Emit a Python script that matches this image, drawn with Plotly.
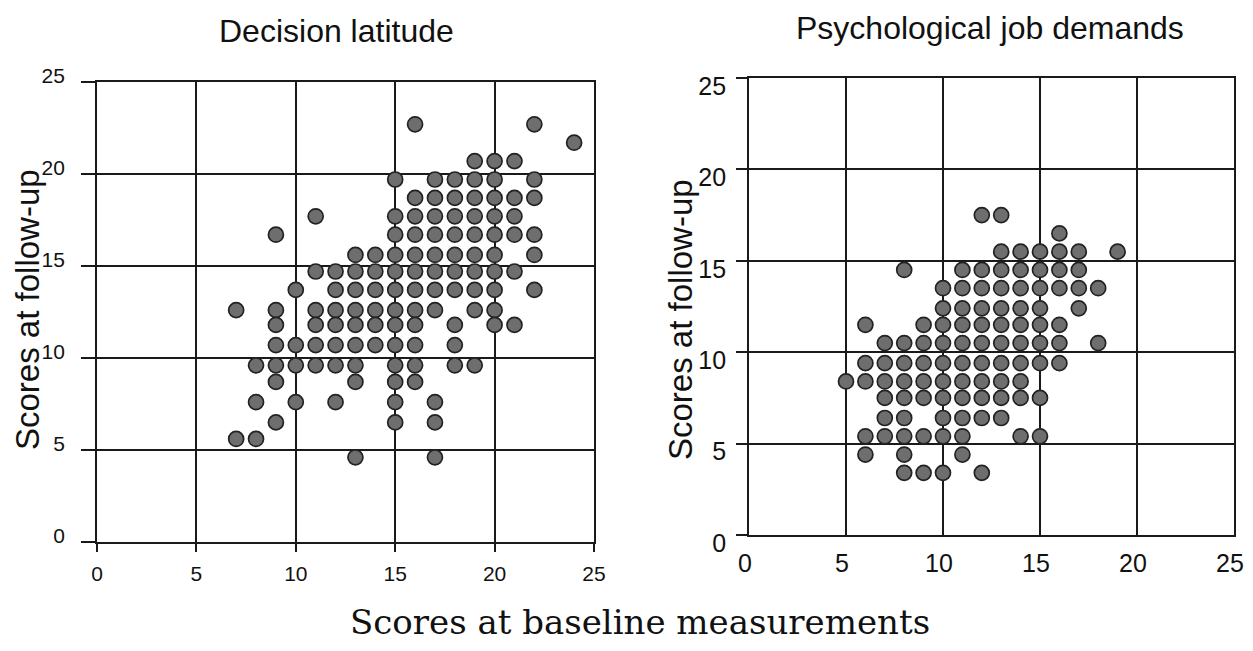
import plotly.graph_objects as go

# ---------------- data ----------------
# Decision latitude: rows of points (follow-up score level, baseline scores in that row)
dl_row_y = [22.7, 21.7, 20.7, 19.7, 18.7, 17.7, 16.7, 15.6, 14.7, 13.7,
            12.6, 11.8, 10.7, 9.6, 8.7, 7.6, 6.5, 5.6, 4.6]
dl_row_x = [
    [16, 22],
    [24],
    [19, 20, 21],
    [15, 17, 18, 19, 20, 22],
    [16, 17, 18, 19, 20, 21, 22],
    [11, 15, 16, 17, 18, 19, 20, 21],
    [9, 15, 16, 17, 18, 19, 20, 21, 22],
    [13, 14, 15, 16, 17, 18, 19, 20, 22],
    [11, 12, 13, 14, 15, 16, 17, 18, 19, 20, 21],
    [10, 12, 13, 14, 15, 16, 17, 18, 19, 20, 22],
    [7, 9, 11, 12, 13, 14, 15, 16, 17, 19, 20],
    [9, 11, 12, 13, 14, 15, 16, 18, 20, 21],
    [9, 10, 11, 12, 13, 14, 15, 16, 18],
    [8, 9, 10, 11, 12, 13, 15, 16, 18, 19],
    [9, 13, 15, 16],
    [8, 10, 12, 15, 17],
    [9, 15, 17],
    [7, 8],
    [13, 17],
]

# Psychological job demands
pd_row_y = [17.5, 16.5, 15.5, 14.5, 13.5, 12.4, 11.5, 10.5, 9.4, 8.4,
            7.5, 6.4, 5.4, 4.4, 3.4]
pd_row_x = [
    [12, 13],
    [16],
    [13, 14, 15, 16, 17, 19],
    [8, 11, 12, 13, 14, 15, 16, 17],
    [10, 11, 12, 13, 14, 15, 16, 17, 18],
    [10, 11, 12, 13, 14, 15, 17],
    [6, 9, 10, 11, 12, 13, 14, 15, 16],
    [7, 8, 9, 10, 11, 12, 13, 14, 15, 16, 18],
    [6, 7, 8, 9, 10, 11, 12, 13, 14, 15, 16],
    [5, 6, 7, 8, 9, 10, 11, 12, 13, 14],
    [7, 8, 9, 10, 11, 12, 13, 14, 15],
    [7, 8, 10, 11, 12, 13],
    [6, 7, 8, 9, 10, 11, 14, 15],
    [6, 8, 11],
    [8, 9, 10, 12],
]

tick_vals = [0, 5, 10, 15, 20, 25]
tick_text = ["0", "5", "10", "15", "20", "25"]

titles = ["Decision latitude", "Psychological job demands"]
y_title = "Scores at follow-up"
x_title = "Scores at baseline measurements"


def flatten(row_y, row_x):
    xs, ys = [], []
    for yv, xr in zip(row_y, row_x):
        for xv in xr:
            xs.append(xv)
            ys.append(yv)
    return xs, ys


dl_x, dl_y = flatten(dl_row_y, dl_row_x)
pd_x, pd_y = flatten(pd_row_y, pd_row_x)

# page body has an 8px margin; the figure is offset by it
OFF = 8
W, H = 1253 - OFF, 651 - OFF
INK = "#1a1a1a"
marker = dict(size=15, color="#6e6e6e", line=dict(color="#222222", width=1.7))

fig = go.Figure()
fig.add_trace(go.Scatter(x=dl_x, y=dl_y, mode="markers", marker=marker,
                         xaxis="x", yaxis="y", showlegend=False, hoverinfo="x+y"))
fig.add_trace(go.Scatter(x=pd_x, y=pd_y, mode="markers", marker=marker,
                         xaxis="x2", yaxis="y2", showlegend=False, hoverinfo="x+y"))


def px_x(p):
    return (p - OFF) / W


def px_y(p):
    return 1 - (p - OFF) / H


common = dict(range=[0, 25], tickvals=tick_vals, ticktext=tick_text,
              showgrid=True, gridcolor=INK, gridwidth=1.8,
              showline=True, linecolor=INK, linewidth=1.8, mirror=True,
              zeroline=False, fixedrange=True, tickcolor=INK, tickwidth=1.8,
              automargin=False)

SANS = "Liberation Sans, Arial, sans-serif"
left_font = dict(family=SANS, size=21, color="#111")
right_font = dict(family=SANS, size=25, color="#111")

fig.update_layout(
    width=W, height=H,
    margin=dict(l=0, r=0, t=0, b=0, autoexpand=False),
    paper_bgcolor="white", plot_bgcolor="white",
    xaxis=dict(common, domain=[px_x(97), px_x(594)], anchor="y",
               ticks="outside", ticklen=8, tickfont=left_font,
               ticklabelstandoff=4),
    yaxis=dict(common, domain=[px_y(542), px_y(82)], anchor="x",
               ticks="outside", ticklen=14, tickfont=left_font,
               ticklabelstandoff=12, ticklabelshift=-6),
    xaxis2=dict(common, domain=[px_x(749), px_x(1234)], anchor="y2",
                ticks="", tickfont=right_font, ticklabelstandoff=5,
                ticklabelshift=-4),
    yaxis2=dict(common, domain=[px_y(535), px_y(78)], anchor="x2",
                ticks="outside", ticklen=11, tickfont=right_font,
                ticklabelstandoff=5, ticklabelshift=8),
    annotations=[
        dict(text=titles[0], x=px_x(336), y=px_y(31), xref="paper", yref="paper",
             showarrow=False, xanchor="center", yanchor="middle",
             font=dict(family=SANS, size=32, color="#111")),
        dict(text=titles[1], x=px_x(990), y=px_y(28), xref="paper", yref="paper",
             showarrow=False, xanchor="center", yanchor="middle",
             font=dict(family=SANS, size=32, color="#111")),
        dict(text=y_title, x=px_x(27), y=px_y(310), xref="paper", yref="paper",
             showarrow=False, xanchor="center", yanchor="middle", textangle=-90,
             font=dict(family=SANS, size=33, color="#111")),
        dict(text=y_title, x=px_x(680), y=px_y(320), xref="paper", yref="paper",
             showarrow=False, xanchor="center", yanchor="middle", textangle=-90,
             font=dict(family=SANS, size=33, color="#111")),
        dict(text=x_title, x=px_x(640), y=px_y(622), xref="paper", yref="paper",
             showarrow=False, xanchor="center", yanchor="middle",
             font=dict(family="DejaVu Serif, serif", size=34, color="#111")),
    ],
)

fig.write_html("out.html")
